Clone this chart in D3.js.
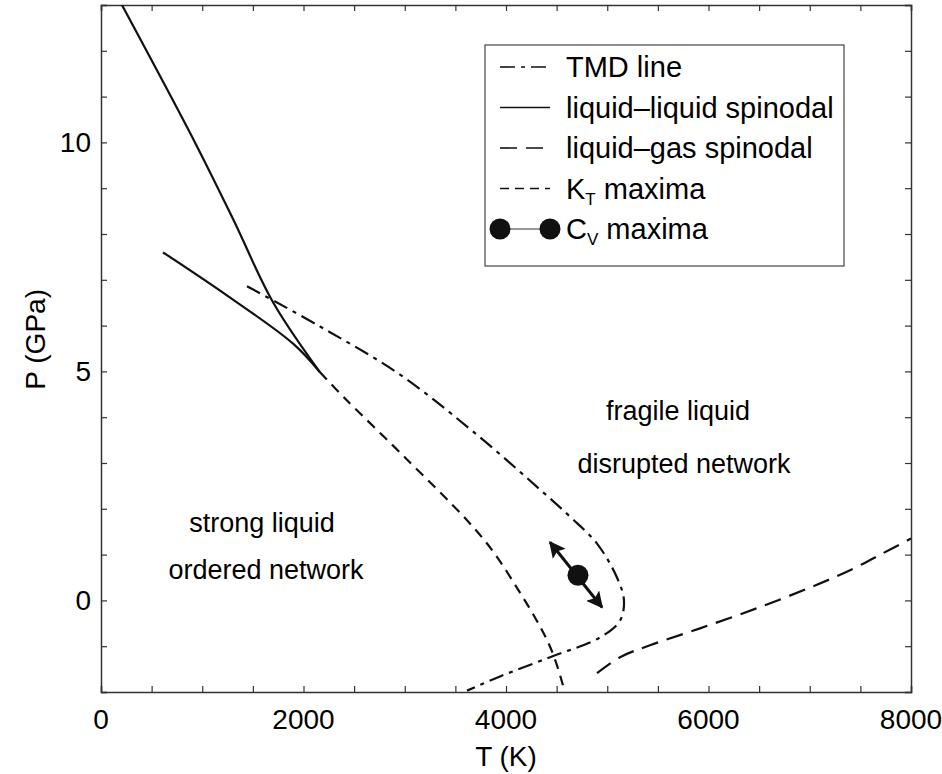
<!DOCTYPE html>
<html>
<head>
<meta charset="utf-8">
<script src="https://cdn.jsdelivr.net/npm/d3@7"></script>
<style>
  body { margin: 0; background: #fff; }
  svg { display: block; }
</style>
</head>
<body>
<div id="chart"></div>
<script>
// T in K, P in GPa
const llUpperT = [207, 928, 1310, 1699, 2163];
const llUpperP = [13.0, 10.0, 8.3, 6.51, 4.98];
const llLowerT = [612, 1250, 1900, 2163];
const llLowerP = [7.6, 6.65, 5.6, 4.98];
const tmdT = [1442, 2163, 2953, 3743, 4336, 4632, 4899, 5096, 5165, 5126, 4928, 4435, 3941, 3615];
const tmdP = [6.86, 5.98, 4.93, 3.56, 2.42, 1.83, 1.24, 0.50, 0.0, -0.44, -0.81, -1.24, -1.66, -1.97];
const ktT = [2163, 2410, 3012, 3615, 3872, 4138, 4336, 4454, 4563, 4583];
const ktP = [4.98, 4.41, 3.10, 1.75, 1.07, 0.17, -0.57, -1.11, -1.86, -2.07];
const lgT = [4899, 5126, 5422, 5916, 6479, 7002, 7398, 7723, 8000];
const lgP = [-1.59, -1.24, -0.98, -0.61, -0.17, 0.28, 0.66, 1.03, 1.35];
const cvT = [4711];
const cvP = [0.55];
const cvArrowT = [4435, 4948];
const cvArrowP = [1.27, -0.15];
const xTicks = [0, 2000, 4000, 6000, 8000];
const yTicks = [0, 5, 10];
const legendLabels = ["TMD line", "liquid\u2013liquid spinodal", "liquid\u2013gas spinodal", "K", "C"];

const width = 942, height = 774;
const margin = {left: 101, right: 31, top: 5, bottom: 82};

const x = d3.scaleLinear().domain([0, 8000]).range([margin.left, width - margin.right]);
const y = d3.scaleLinear().domain([-2, 13]).range([height - margin.bottom, margin.top]);

const svg = d3.select("#chart").append("svg")
    .attr("width", width)
    .attr("height", height)
    .attr("font-family", "'Liberation Sans', Arial, sans-serif");

const defs = svg.append("defs");
defs.append("clipPath").attr("id", "clip")
  .append("rect")
    .attr("x", x(0)).attr("y", y(13))
    .attr("width", x(8000) - x(0)).attr("height", y(-2) - y(13));
defs.append("marker")
    .attr("id", "head")
    .attr("viewBox", "0 0 10 10")
    .attr("refX", 9).attr("refY", 5)
    .attr("markerWidth", 5.5).attr("markerHeight", 5.5)
    .attr("orient", "auto-start-reverse")
  .append("path")
    .attr("d", "M0,0L10,5L0,10L2,5Z")
    .attr("fill", "#111");

// axes, ticks pointing inwards on all four sides
const frame = svg.append("g");
frame.append("g").attr("transform", `translate(0,${y(-2)})`)
  .call(d3.axisTop(x).tickValues(d3.range(0, 8001, 500)).tickSize(6).tickFormat(""));
frame.append("g").attr("transform", `translate(0,${y(13)})`)
  .call(d3.axisBottom(x).tickValues(d3.range(0, 8001, 500)).tickSize(6).tickFormat(""));
frame.append("g").attr("transform", `translate(${x(0)},0)`)
  .call(d3.axisRight(y).tickValues(d3.range(-2, 14, 1)).tickSize(6).tickFormat(""));
frame.append("g").attr("transform", `translate(${x(8000)},0)`)
  .call(d3.axisLeft(y).tickValues(d3.range(-2, 14, 1)).tickSize(6).tickFormat(""));
frame.selectAll(".domain").attr("stroke", "#333").attr("stroke-width", 1.5);
frame.selectAll(".tick line").attr("stroke", "#333").attr("stroke-width", 1.2);

svg.append("g").selectAll("text")
  .data(xTicks)
  .join("text")
    .attr("x", d => x(d))
    .attr("y", 729)
    .attr("text-anchor", "middle")
    .attr("font-size", 28)
    .text(d => d);

svg.append("g").selectAll("text")
  .data(yTicks)
  .join("text")
    .attr("x", 91)
    .attr("y", d => y(d) + 10)
    .attr("text-anchor", "end")
    .attr("font-size", 28)
    .text(d => d);

svg.append("text")
    .attr("x", x(4000))
    .attr("y", 766)
    .attr("text-anchor", "middle")
    .attr("font-size", 28)
    .text("T (K)");

svg.append("text")
    .attr("transform", `translate(45,${y(5.7)}) rotate(-90)`)
    .attr("text-anchor", "middle")
    .attr("font-size", 28)
    .text("P (GPa)");

// curves
const line = d3.line().curve(d3.curveCatmullRom.alpha(0.5));
const pts = (T, P) => T.map((t, i) => [x(t), y(P[i])]);

const plot = svg.append("g").attr("clip-path", "url(#clip)")
    .attr("fill", "none").attr("stroke", "#111").attr("stroke-width", 2.2);

plot.append("path").attr("d", line(pts(llUpperT, llUpperP)));
plot.append("path").attr("d", line(pts(llLowerT, llLowerP)));
plot.append("path").attr("d", line(pts(tmdT, tmdP))).attr("stroke-dasharray", "15,6,4,6");
plot.append("path").attr("d", line(pts(ktT, ktP))).attr("stroke-dasharray", "10,7");
plot.append("path").attr("d", line(pts(lgT, lgP))).attr("stroke-dasharray", "17,9");

// Cv maximum with double arrow
svg.append("line")
    .attr("x1", x(cvArrowT[0])).attr("y1", y(cvArrowP[0]))
    .attr("x2", x(cvArrowT[1])).attr("y2", y(cvArrowP[1]))
    .attr("stroke", "#111").attr("stroke-width", 3)
    .attr("marker-start", "url(#head)")
    .attr("marker-end", "url(#head)");
svg.append("g").selectAll("circle")
  .data(cvT)
  .join("circle")
    .attr("cx", d => x(d))
    .attr("cy", (d, i) => y(cvP[i]))
    .attr("r", 10.5)
    .attr("fill", "#111");

// region labels
const regions = [
  {t: "fragile liquid", x: 678, y: 420},
  {t: "disrupted network", x: 684, y: 473},
  {t: "strong liquid", x: 262, y: 532},
  {t: "ordered network", x: 266, y: 579}
];
svg.append("g").selectAll("text")
  .data(regions)
  .join("text")
    .attr("x", d => d.x).attr("y", d => d.y)
    .attr("text-anchor", "middle")
    .attr("font-size", 27)
    .text(d => d.t);

// legend
const lg = svg.append("g");
lg.append("rect")
    .attr("x", 485).attr("y", 45)
    .attr("width", 359).attr("height", 221)
    .attr("fill", "#fff").attr("stroke", "#444").attr("stroke-width", 1.2);

const rowY = i => 67 + i * 40.5;
const dashes = ["15,6,4,6", null, "17,9", "9,6"];
dashes.forEach((da, i) => {
  lg.append("line")
      .attr("x1", 500).attr("x2", 550)
      .attr("y1", rowY(i)).attr("y2", rowY(i))
      .attr("stroke", "#111").attr("stroke-width", 1.6)
      .attr("stroke-dasharray", da);
});
lg.append("line")
    .attr("x1", 500).attr("x2", 550)
    .attr("y1", rowY(4)).attr("y2", rowY(4))
    .attr("stroke", "#333").attr("stroke-width", 1);
lg.selectAll("circle")
  .data([500, 550])
  .join("circle")
    .attr("cx", d => d).attr("cy", rowY(4))
    .attr("r", 10.5).attr("fill", "#111");

const lt = lg.append("g").attr("font-size", 29);
legendLabels.slice(0, 3).forEach((s, i) => {
  lt.append("text").attr("x", 566).attr("y", rowY(i) + 10).text(s);
});
const kt = lt.append("text").attr("x", 566).attr("y", rowY(3) + 10);
kt.append("tspan").text(legendLabels[3]);
kt.append("tspan").attr("font-size", 17).attr("dy", 6).text("T");
kt.append("tspan").attr("dy", -6).text(" maxima");
const cv = lt.append("text").attr("x", 566).attr("y", rowY(4) + 10);
cv.append("tspan").text(legendLabels[4]);
cv.append("tspan").attr("font-size", 17).attr("dy", 6).text("V");
cv.append("tspan").attr("dy", -6).text(" maxima");
</script>
</body>
</html>
